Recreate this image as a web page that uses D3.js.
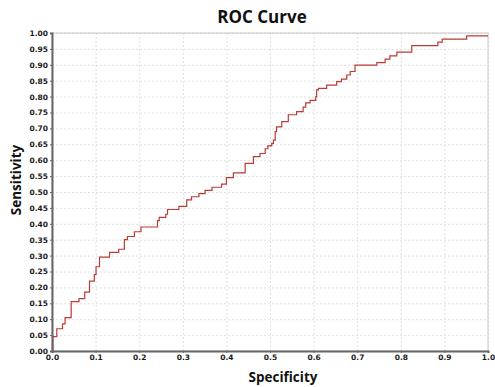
<!DOCTYPE html>
<html>
<head>
<meta charset="UTF-8">
<title>ROC Curve</title>
<script src="https://d3js.org/d3.v7.min.js"></script>
<style>
  body { margin: 0; padding: 0; background: #fff; }
  .tick text { font-family: "DejaVu Sans", sans-serif; font-weight: bold; font-size: 7.5px; fill: #1a1a1a; }
  .grid line { stroke: #d8d8d8; stroke-dasharray: 2,2; stroke-width: 0.8px; }
  .grid path { display: none; }
  .title { font-family: "Open Sans", sans-serif; font-weight: bold; fill: #111; }
</style>
</head>
<body>
<div id="chart"></div>
<script>
// x = specificity axis value, y = sensitivity at which each step lands
const specificity = [0, 0.002, 0.011, 0.024, 0.030, 0.044, 0.062, 0.075, 0.086, 0.097,
  0.101, 0.109, 0.132, 0.153, 0.166, 0.173, 0.189, 0.204, 0.242, 0.246,
  0.261, 0.265, 0.291, 0.309, 0.320, 0.337, 0.351, 0.367, 0.389, 0.400,
  0.416, 0.443, 0.462, 0.477, 0.489, 0.495, 0.504, 0.508, 0.512, 0.515,
  0.527, 0.542, 0.561, 0.576, 0.582, 0.592, 0.605, 0.607, 0.611, 0.630,
  0.653, 0.664, 0.676, 0.684, 0.695, 0.745, 0.764, 0.775, 0.791, 0.825,
  0.885, 0.895, 0.951, 1.0];
const sensitivity = [0, 0.045, 0.07, 0.085, 0.105, 0.155, 0.165, 0.185, 0.22, 0.24,
  0.265, 0.295, 0.31, 0.32, 0.35, 0.36, 0.375, 0.39, 0.41, 0.42,
  0.43, 0.445, 0.455, 0.475, 0.485, 0.495, 0.505, 0.515, 0.525, 0.545,
  0.56, 0.59, 0.611, 0.621, 0.636, 0.645, 0.653, 0.663, 0.69, 0.705,
  0.721, 0.743, 0.753, 0.767, 0.78, 0.788, 0.80, 0.821, 0.826, 0.836,
  0.847, 0.855, 0.868, 0.879, 0.899, 0.907, 0.918, 0.928, 0.94, 0.96,
  0.971, 0.981, 0.991, 0.991];
const xTicks = d3.range(0, 11).map(d => d / 10);
const yTicks = d3.range(0, 21).map(d => d / 20);

const width = 495, height = 387;
const margin = { top: 33, right: 7, bottom: 36, left: 52 };
const iw = width - margin.left - margin.right;
const ih = height - margin.top - margin.bottom;

const svg = d3.select("#chart").append("svg")
  .attr("width", width).attr("height", height);

const g = svg.append("g").attr("transform", `translate(${margin.left},${margin.top})`);

const x = d3.scaleLinear().domain([0, 1]).range([0, iw]);
const y = d3.scaleLinear().domain([0, 1]).range([ih, 0]);

// grid
g.append("g").attr("class", "grid")
  .attr("transform", `translate(0,${ih})`)
  .call(d3.axisBottom(x).tickValues(xTicks).tickSize(-ih).tickFormat(""));
g.append("g").attr("class", "grid")
  .call(d3.axisLeft(y).tickValues(yTicks).tickSize(-iw).tickFormat(""));

// light frame
g.append("rect").attr("width", iw).attr("height", ih)
  .attr("fill", "none").attr("stroke", "#c8c8c8").attr("stroke-width", 1);

// curve
const pts = specificity.map((s, i) => [s, sensitivity[i]]);
g.append("path")
  .datum(pts)
  .attr("fill", "none")
  .attr("stroke", "#bb3b36")
  .attr("stroke-width", 1.2)
  .attr("d", d3.line().x(d => x(d[0])).y(d => y(d[1])).curve(d3.curveStepAfter));

// axes
const xAxis = g.append("g")
  .attr("transform", `translate(0,${ih})`)
  .call(d3.axisBottom(x).tickValues(xTicks).tickSize(2).tickPadding(2).tickFormat(d3.format(".1f")));
const yAxis = g.append("g")
  .call(d3.axisLeft(y).tickValues(yTicks).tickSize(2).tickPadding(2).tickFormat(d3.format(".2f")));
[xAxis, yAxis].forEach(a => {
  a.select(".domain").attr("stroke", "#666").attr("stroke-width", 2);
  a.selectAll(".tick line").attr("stroke", "#666");
});

// titles
svg.append("text").attr("class", "title")
  .attr("x", 262).attr("y", 23)
  .attr("text-anchor", "middle").style("font-size", "17px")
  .text("ROC Curve");
svg.append("text").attr("class", "title")
  .attr("x", 283).attr("y", 382)
  .attr("text-anchor", "middle").style("font-size", "13.5px")
  .text("Specificity");
svg.append("text").attr("class", "title")
  .attr("transform", "translate(21,180) rotate(-90)")
  .attr("text-anchor", "middle").style("font-size", "13.5px")
  .text("Sensitivity");
</script>
</body>
</html>
